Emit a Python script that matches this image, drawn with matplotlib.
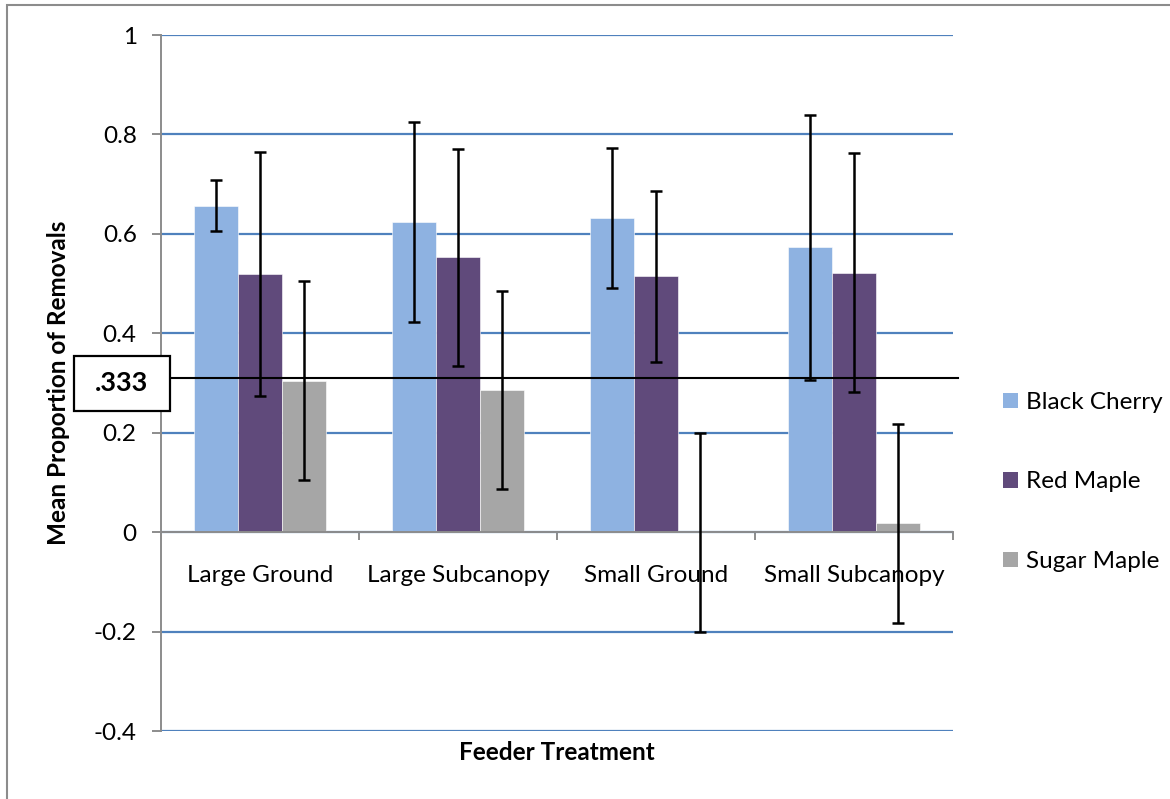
import matplotlib
matplotlib.use("Agg")
import matplotlib.pyplot as plt
import numpy as np
from matplotlib.patches import Patch, Rectangle
from matplotlib.transforms import blended_transform_factory

# ---- data ----
categories = ["Large Ground", "Large Subcanopy", "Small Ground", "Small Subcanopy"]
series_names = ["Black Cherry", "Red Maple", "Sugar Maple"]
black_cherry = [0.657, 0.624, 0.632, 0.573]
red_maple = [0.519, 0.553, 0.515, 0.522]
sugar_maple = [0.305, 0.286, 0.0, 0.018]
black_cherry_err = [0.052, 0.201, 0.141, 0.267]
red_maple_err = [0.245, 0.218, 0.172, 0.241]
sugar_maple_err = [0.200, 0.200, 0.200, 0.200]
ref_value = 0.311
ref_label = ".333"
y_ticks = [-0.4, -0.2, 0, 0.2, 0.4, 0.6, 0.8, 1]
y_tick_labels = ["-0.4", "-0.2", "0", "0.2", "0.4", "0.6", "0.8", "1"]

colors = ["#8EB2E1", "#604A7B", "#A6A6A6"]
grid_col = "#4F81BD"
axis_col = "#8C8C8C"

plt.rcParams['font.family'] = ['Lato', 'DejaVu Sans']

W, H = 1170, 799
fig = plt.figure(figsize=(W / 100, H / 100), dpi=100)

def fx(px):
    return px / W

def fy(py):
    return 1 - py / H

ax = fig.add_axes([fx(161), fy(731), fx(953) - fx(161), fy(35) - fy(731)])

x = np.arange(len(categories))
bw = 0.222
values = [black_cherry, red_maple, sugar_maple]
errs = [black_cherry_err, red_maple_err, sugar_maple_err]
for i, (vals, e, c, name) in enumerate(zip(values, errs, colors, series_names)):
    pos = x + (i - 1) * bw
    ax.bar(pos, vals, width=bw, color=c, edgecolor='white', linewidth=0.4, zorder=2, label=name)
    ax.errorbar(pos, vals, yerr=e, fmt='none', ecolor='black', elinewidth=1.8,
                capsize=4.5, capthick=1.8, zorder=5, clip_on=False)

ax.set_xlim(-0.5, len(categories) - 0.5)
ax.set_ylim(-0.4, 1)
ax.set_yticks(y_ticks)
ax.set_yticklabels(y_tick_labels, fontsize=17.5)
ax.yaxis.grid(True, color=grid_col, linewidth=1.6)
ax.set_axisbelow(True)

for s in ['top', 'right']:
    ax.spines[s].set_visible(False)
ax.spines['left'].set_color(axis_col)
ax.spines['left'].set_linewidth(1.4)
ax.spines['bottom'].set_position(('data', 0))
ax.spines['bottom'].set_color(axis_col)
ax.spines['bottom'].set_linewidth(1.4)
ax.spines['bottom'].set_zorder(3)

ax.set_xticks(np.arange(len(categories) + 1) - 0.5)
ax.set_xticklabels([])
ax.tick_params(axis='x', direction='out', length=6, width=1.4, color=axis_col)
ax.tick_params(axis='y', direction='out', length=6.5, width=1.4, color=axis_col, pad=11)

for xi, cat in zip(x, categories):
    ax.text(xi, -0.087, cat, ha='center', va='center', fontsize=17.5, zorder=3)

fig.text(fx(59), (fy(35) + fy(731)) / 2, "Mean Proportion of Removals", rotation=90,
         ha='center', va='center', fontsize=17.5, fontweight='bold')
fig.text((fx(161) + fx(953)) / 2, fy(753), "Feeder Treatment", ha='center', va='center',
         fontsize=17.5, fontweight='bold')

# reference line and label box
tr = blended_transform_factory(fig.transFigure, ax.transData)
ax.plot([fx(170), fx(958)], [ref_value, ref_value], color='black', linewidth=1.5,
        transform=tr, clip_on=False, zorder=4)
fig.patches.append(Rectangle((fx(74), fy(411)), fx(170) - fx(74), fy(356) - fy(411),
                             transform=fig.transFigure, facecolor='white', edgecolor='black',
                             linewidth=1.6, zorder=5))
fig.text(fx(122), fy(383), ref_label, ha='center', va='center', fontsize=19.5,
         fontweight='bold', zorder=6)

# outer frame
fig.patches.append(Rectangle((fx(7), fy(830)), fx(1200) - fx(7), fy(5) - fy(830),
                             transform=fig.transFigure, facecolor='none', edgecolor='#8C8C8C',
                             linewidth=1.5, zorder=0))

handles = [Patch(facecolor=c, edgecolor='none') for c in colors]
fig.legend(handles, series_names, loc='center left', bbox_to_anchor=(fx(1003), fy(482)),
           frameon=False, fontsize=17.5, labelspacing=2.4, handlelength=0.6, handleheight=0.6,
           handletextpad=0.35, borderpad=0, borderaxespad=0)

fig.savefig("out.png", dpi=100)
